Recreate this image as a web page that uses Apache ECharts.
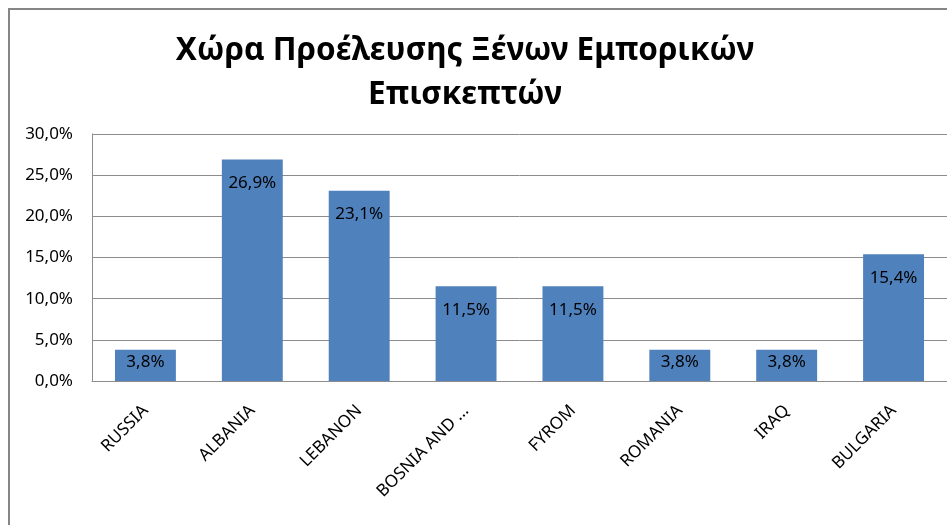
<!DOCTYPE html>
<html>
<head>
<meta charset="utf-8">
<script src="https://cdn.jsdelivr.net/npm/echarts@6/dist/echarts.min.js"></script>
<style>
  html, body { margin: 0; padding: 0; background: #fff; }
  #chart { width: 947px; height: 525px; }
</style>
</head>
<body>
<div id="chart"></div>
<script>
var titleLines = ['Χώρα Προέλευσης Ξένων Εμπορικών', 'Επισκεπτών'];
var countries = ['RUSSIA', 'ALBANIA', 'LEBANON', 'BOSNIA AND ...', 'FYROM', 'ROMANIA', 'IRAQ', 'BULGARIA'];
var shares = [3.8, 26.9, 23.1, 11.5, 11.5, 3.8, 3.8, 15.4];
var yTicks = [0, 5, 10, 15, 20, 25, 30];

function pct(v) {
    return v.toFixed(1).replace('.', ',') + '%';
}

// short bars get their label closer to the top (as Excel does)
var barData = shares.map(function (v) {
    return {
        value: v,
        label: { distance: v < 5 ? 4 : 15 }
    };
});

var myChart = echarts.init(document.getElementById('chart'));
var option = {
    backgroundColor: '#fff',
    animation: false,
    title: {
        text: titleLines.join('\n'),
        left: 460,
        top: 24,
        textAlign: 'center',
        textStyle: {
            fontFamily: 'Noto Sans',
            fontWeight: 'bold',
            fontSize: 31.5,
            lineHeight: 44,
            color: '#000'
        }
    },
    graphic: [{
        type: 'rect',
        shape: { x: 9, y: 9, width: 1000, height: 1000 },
        style: { fill: 'none', stroke: '#868686', lineWidth: 2 },
        silent: true
    }],
    grid: { left: 92, right: -1, top: 134, bottom: 144 },
    xAxis: {
        type: 'category',
        data: countries,
        axisLine: { show: true, lineStyle: { color: '#8c8c8c', width: 1 } },
        axisTick: { show: false },
        axisLabel: {
            rotate: 45,
            interval: 0,
            margin: 27,
            fontFamily: 'Noto Sans',
            fontSize: 17,
            color: '#000'
        }
    },
    yAxis: {
        type: 'value',
        min: yTicks[0],
        max: yTicks[yTicks.length - 1],
        interval: 5,
        axisLine: { show: true, lineStyle: { color: '#8c8c8c', width: 1 } },
        axisTick: { show: false },
        splitLine: { lineStyle: { color: '#8c8c8c', width: 1 } },
        axisLabel: {
            margin: 19,
            fontFamily: 'Noto Sans',
            fontSize: 17,
            color: '#000',
            formatter: function (v) { return pct(v); }
        }
    },
    series: [{
        type: 'bar',
        data: barData,
        barCategoryGap: '43%',
        itemStyle: { color: '#4F81BD' },
        label: {
            show: true,
            position: 'insideTop',
            fontFamily: 'Noto Sans',
            fontSize: 17,
            color: '#000',
            formatter: function (p) { return pct(p.value); }
        }
    }]
};
myChart.setOption(option);
</script>
</body>
</html>
